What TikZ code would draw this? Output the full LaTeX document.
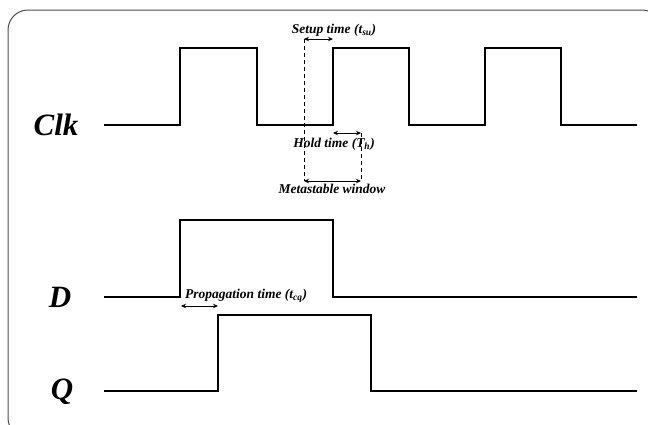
\documentclass[tikz,border=0pt]{standalone}
\usepackage{fontspec}
\setmainfont{Liberation Serif}
\usetikzlibrary{arrows.meta}
\begin{document}
\begin{tikzpicture}[x=1pt,y=-1pt,
  wave/.style={line width=1.3pt, black, line join=miter},
  lbl/.style={font=\bfseries\itshape\fontsize{13.5}{15}\selectfont, inner sep=0pt},
  sig/.style={font=\bfseries\itshape\fontsize{31}{34}\selectfont, inner sep=0pt},
  dim/.style={{Stealth[length=5pt,width=4.5pt]}-{Stealth[length=5pt,width=4.5pt]}, line width=1pt},
  guide/.style={dash pattern=on 4pt off 3pt, line width=0.9pt}]
\useasboundingbox (0,0) rectangle (648,424);
\clip (0,0) rectangle (648,424);
\draw[black!70, line width=1pt, rounded corners=20pt] (8,10) rectangle (662,438);
% waveforms
\draw[wave] (104,125) -- (180,125) -- (180,48) -- (257,48) -- (257,125) -- (333,125) -- (333,48) -- (409,48) -- (409,125) -- (485,125) -- (485,48) -- (561,48) -- (561,125) -- (637,125);
\draw[wave] (104,297) -- (180,297) -- (180,220) -- (333,220) -- (333,297) -- (637,297);
\draw[wave] (104,391) -- (218,391) -- (218,315) -- (371,315) -- (371,391) -- (637,391);
% signal names
\node[sig, anchor=base] (clk) at (56,135) {Clk};
\node[sig, anchor=base] (d) at (60,307) {D};
\node[sig, anchor=base] (q) at (62,399) {Q};
% guides
\coordinate (gtop) at (304,39);
\coordinate (gbl) at (304,181);
\coordinate (gbr) at (361,181);
\coordinate (htop) at (361,133);
\coordinate (sur) at (333,39);
\coordinate (hl) at (333,133);
\draw[guide] (gtop) -- (gbl);
\draw[guide] (htop) -- (gbr);
\draw[dim] (gtop) -- (sur);
\draw[dim] (hl) -- (htop);
\draw[dim] (gbl) -- (gbr);
\coordinate (pl) at (181,306);
\coordinate (pr) at (218,306);
\draw[dim] (pl) -- (pr);
% labels
\node[lbl, anchor=base] (su) at (334,33) {Setup time (t\textsubscript{su})};
\node[lbl, anchor=base] (ho) at (334,147) {Hold time (T\textsubscript{h})};
\node[lbl, anchor=base] (mw) at (332,193) {Metastable window};
\node[lbl, anchor=base west] (pt) at (185,298) {Propagation time (t\textsubscript{cq})};
\end{tikzpicture}
\end{document}
